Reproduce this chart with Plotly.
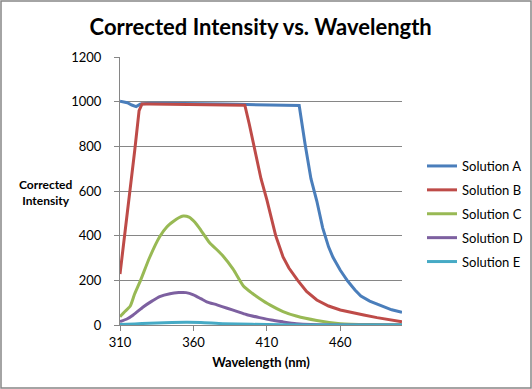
import plotly.graph_objects as go

# ---------------- data ----------------
wl_a = [310, 315, 318, 321, 324, 330, 340, 350, 360, 370, 380, 390, 400, 410, 420, 432,
        436, 440, 444, 448, 452, 455, 460, 465, 470, 474, 480, 489, 495, 502]
sol_a = [1002, 995, 985, 978, 990, 993, 993, 993, 992, 991, 990, 988, 986, 985, 984, 983,
         810, 655, 555, 435, 350, 303, 245, 197, 157, 130, 107, 82, 68, 57]

wl_b = [310, 313, 317, 320, 323, 325, 330, 340, 350, 360, 370, 380, 390, 395,
        398, 402, 406, 410, 416, 421, 425, 431, 437, 444, 452, 460, 468, 476, 485, 494, 502]
sol_b = [228, 390, 600, 780, 960, 990, 990, 989, 989, 988, 988, 987, 986, 984,
         900, 770, 655, 560, 400, 305, 255, 200, 150, 112, 85, 67, 55, 45, 33, 22, 15]

wl_c = [310, 313, 317, 320, 324, 330, 337, 342, 346, 350, 353, 357, 361, 365, 371, 376,
        380, 387, 394, 400, 405, 412, 421, 430, 444, 460, 480, 502]
sol_c = [37, 58, 85, 140, 200, 300, 395, 440, 462, 480, 488, 483, 460, 425, 368, 337,
         310, 250, 175, 142, 119, 90, 60, 40, 20, 6, 2, 1]

wl_d = [310, 315, 319, 326, 332, 337, 344, 350, 355, 360, 365, 369, 376, 383, 390, 396,
        405, 413, 421, 430, 440, 460, 502]
sol_d = [15, 28, 45, 82, 108, 127, 140, 145, 145, 135, 118, 104, 90, 75, 60, 47,
         33, 22, 14, 6, 2, 0.5, 0]

wl_e = [310, 320, 330, 340, 355, 365, 380, 400, 420, 450, 502]
sol_e = [2, 5, 8, 10, 12, 11, 6, 3, 1, 0.3, 0]

series_names = ["Solution A", "Solution B", "Solution C", "Solution D", "Solution E"]
x_ticks = [310, 360, 410, 460]
y_ticks = [0, 200, 400, 600, 800, 1000, 1200]

# ---------------- styling ----------------
colors = ["#4A7EBB", "#BE4B48", "#98B954", "#7D60A0", "#46AAC5"]
shapes_line = ["linear", "linear", "spline", "spline", "spline"]
FONT = "Lato"
W, H = 532, 389
L, R, T, B = 120, 130, 57, 64

fig = go.Figure()
data = [(wl_a, sol_a), (wl_b, sol_b), (wl_c, sol_c), (wl_d, sol_d), (wl_e, sol_e)]
for i, ((xs, ys), name) in enumerate(zip(data, series_names)):
    fig.add_trace(go.Scatter(
        x=xs, y=ys, mode="lines", name=name, legendgroup=f"g{i}",
        line=dict(color=colors[i], width=3, shape=shapes_line[i], smoothing=0.6),
        cliponaxis=False,
    ))

pw = W - L - R
ph = H - T - B

def px_x(p):
    return (p - L) / pw

def px_y(p):
    return (H - B - p) / ph

fig.update_layout(
    width=W, height=H,
    margin=dict(l=L, r=R, t=T, b=B),
    paper_bgcolor="white", plot_bgcolor="white",
    font=dict(family=FONT, size=12, color="black"),
    showlegend=True,
    legend=dict(
        xref="container", yref="container",
        x=422 / W, y=1 - 151 / H, xanchor="left", yanchor="top",
        font=dict(family=FONT, size=13, color="black"),
        tracegroupgap=4, bgcolor="rgba(0,0,0,0)", itemwidth=30,
    ),
    title=dict(
        text="<b>Corrected Intensity vs. Wavelength</b>",
        x=0.49, xref="container", xanchor="center",
        y=1 - 27 / H, yref="container", yanchor="middle",
        font=dict(family=FONT, size=22, color="black"),
    ),
    xaxis=dict(
        range=[310, 502], tickmode="array", tickvals=x_ticks,
        ticktext=[str(v) for v in x_ticks],
        showgrid=False, zeroline=False,
        showline=True, linecolor="#868686", linewidth=1,
        ticks="outside", ticklen=5, tickcolor="#868686",
        tickfont=dict(family=FONT, size=13),
        title=dict(text="<b>Wavelength (nm)</b>", font=dict(family=FONT, size=13), standoff=9),
    ),
    yaxis=dict(
        range=[0, 1200], tickmode="array", tickvals=y_ticks,
        ticktext=[str(v) for v in y_ticks],
        showgrid=True, gridcolor="#868686", gridwidth=1, zeroline=False,
        showline=True, linecolor="#868686", linewidth=1,
        ticks="outside", ticklen=5, tickcolor="#868686",
        tickfont=dict(family=FONT, size=13), ticklabelstandoff=10,
    ),
    annotations=[dict(
        text="<b>Corrected<br>Intensity</b>", xref="paper", yref="paper",
        x=px_x(46), y=px_y(192), xanchor="center", yanchor="middle",
        showarrow=False, font=dict(family=FONT, size=12, color="black"), align="center",
    )],
    shapes=[dict(
        type="rect", xref="paper", yref="paper", layer="below",
        x0=px_x(1), x1=px_x(531), y0=px_y(388), y1=px_y(1),
        line=dict(color="#868686", width=1.5), fillcolor="rgba(0,0,0,0)",
    )],
)

fig.write_html("out.html", config={"displayModeBar": False},
               post_script="document.body.style.margin='0px';")
